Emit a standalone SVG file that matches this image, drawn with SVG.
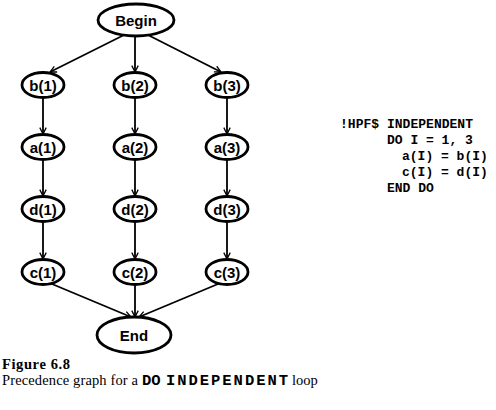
<svg xmlns="http://www.w3.org/2000/svg" width="496" height="410" viewBox="0 0 496 410">
<defs>
<style>
.n{fill:#fff;stroke:#000;stroke-width:2.8}
.t{font-family:"Liberation Sans",Arial,sans-serif;font-weight:bold;font-size:15px;text-anchor:middle;fill:#000}
.e{stroke:#000;stroke-width:1.8;fill:none;marker-end:url(#ah)}
.code{font-family:"Liberation Mono","Courier New",monospace;font-weight:bold;font-size:13px;fill:#000}
.cap{font-family:"Liberation Serif","Times New Roman",serif;font-size:14.5px;fill:#000}
.cm{font-family:"Liberation Mono","Courier New",monospace;font-weight:bold;font-size:15.5px}
</style>
<marker id="ah" viewBox="0 0 10 10" refX="9" refY="5" markerWidth="8" markerHeight="8" markerUnits="userSpaceOnUse" orient="auto">
<path d="M1,1 L9,5 L1,9" fill="none" stroke="#000" stroke-width="1.6"/>
</marker>
</defs>
<rect width="496" height="410" fill="#fff"/>
<g id="connectors">
<line class="e" x1="124" y1="35" x2="50" y2="72"/>
<line class="e" x1="135" y1="37" x2="135" y2="72"/>
<line class="e" x1="148" y1="35" x2="221" y2="72"/>
<line class="e" x1="43" y1="98" x2="43" y2="134"/>
<line class="e" x1="135" y1="98" x2="135" y2="134"/>
<line class="e" x1="227" y1="98" x2="227" y2="134"/>
<line class="e" x1="43" y1="160" x2="43" y2="196"/>
<line class="e" x1="135" y1="160" x2="135" y2="196"/>
<line class="e" x1="227" y1="160" x2="227" y2="196"/>
<line class="e" x1="43" y1="222" x2="43" y2="259"/>
<line class="e" x1="135" y1="222" x2="135" y2="259"/>
<line class="e" x1="227" y1="222" x2="227" y2="259"/>
<line class="e" x1="52" y1="284" x2="131" y2="317"/>
<line class="e" x1="135" y1="285" x2="135" y2="317"/>
<line class="e" x1="218" y1="284" x2="139" y2="317"/>
</g>
<g id="begin"><ellipse class="n" cx="136" cy="20" rx="38" ry="16"/><text class="t" x="136" y="26" font-size="16">Begin</text></g>
<g id="b1"><ellipse class="n" cx="43" cy="85" rx="21" ry="12.5"/><text class="t" x="43" y="90.5">b(1)</text></g>
<g id="b2"><ellipse class="n" cx="135" cy="85" rx="21" ry="12.5"/><text class="t" x="135" y="90.5">b(2)</text></g>
<g id="b3"><ellipse class="n" cx="227" cy="85" rx="21" ry="12.5"/><text class="t" x="227" y="90.5">b(3)</text></g>
<g id="a1"><ellipse class="n" cx="43" cy="147" rx="21" ry="12.5"/><text class="t" x="43" y="152.5">a(1)</text></g>
<g id="a2"><ellipse class="n" cx="135" cy="147" rx="21" ry="12.5"/><text class="t" x="135" y="152.5">a(2)</text></g>
<g id="a3"><ellipse class="n" cx="227" cy="147" rx="21" ry="12.5"/><text class="t" x="227" y="152.5">a(3)</text></g>
<g id="d1"><ellipse class="n" cx="43" cy="209" rx="21" ry="12.5"/><text class="t" x="43" y="214.5">d(1)</text></g>
<g id="d2"><ellipse class="n" cx="135" cy="209" rx="21" ry="12.5"/><text class="t" x="135" y="214.5">d(2)</text></g>
<g id="d3"><ellipse class="n" cx="227" cy="209" rx="21" ry="12.5"/><text class="t" x="227" y="214.5">d(3)</text></g>
<g id="c1"><ellipse class="n" cx="43" cy="272" rx="21" ry="12.5"/><text class="t" x="43" y="277.5">c(1)</text></g>
<g id="c2"><ellipse class="n" cx="135" cy="272" rx="21" ry="12.5"/><text class="t" x="135" y="277.5">c(2)</text></g>
<g id="c3"><ellipse class="n" cx="227" cy="272" rx="21" ry="12.5"/><text class="t" x="227" y="277.5">c(3)</text></g>
<g id="end"><ellipse class="n" cx="134" cy="335" rx="37" ry="18"/><text class="t" x="134" y="341" font-size="16">End</text></g>
<g id="code">
<text class="code" x="340" y="128" textLength="133" lengthAdjust="spacing">!HPF$ INDEPENDENT</text>
<text class="code" x="387" y="144">DO I = 1, 3</text>
<text class="code" x="402" y="160">a(I) = b(I)</text>
<text class="code" x="402" y="176">c(I) = d(I)</text>
<text class="code" x="387" y="192">END DO</text>
</g>
<g id="caption">
<text class="cap" x="2" y="369" font-weight="bold" textLength="68" lengthAdjust="spacing">Figure 6.8</text>
<text class="cap" x="2" y="385"><tspan textLength="136" lengthAdjust="spacing">Precedence graph for a</tspan><tspan class="cm" x="142">DO</tspan><tspan class="cm" x="166" textLength="122" lengthAdjust="spacing">INDEPENDENT</tspan><tspan x="292">loop</tspan></text>
</g>
</svg>
